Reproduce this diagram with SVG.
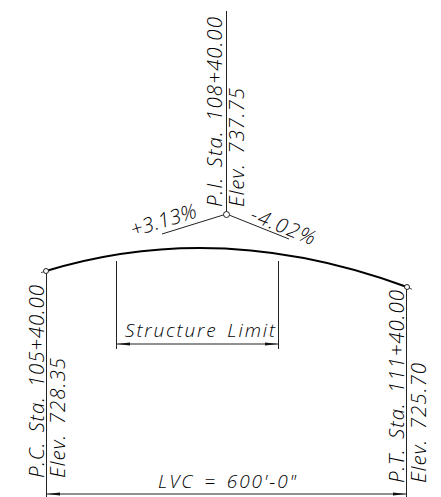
<svg xmlns="http://www.w3.org/2000/svg" width="441" height="497" viewBox="0 0 441 497">
<style>
.l{stroke:#222;stroke-width:1;fill:none}
.t{stroke:#222;stroke-width:.8;fill:none}
.c{stroke:#000;stroke-width:2;fill:none}
.o{stroke:#222;stroke-width:1;fill:#fff}
.a{fill:#111}
text{font-family:"Open Sans",sans-serif;font-weight:300;font-style:italic;font-size:20.500px;word-spacing:3px;fill:#000}
</style>
<rect width="441" height="497" fill="#fff"/>
<g id="connectors">
<path class="l" d="M226.500 11V214M226.500 214L162 234M226.500 214L289 239"/>
<path class="c" d="M46 271Q220 218 407 287"/>
<path class="t" d="M41 272.700L46 271M407 287L412 289.300"/>
<path class="l" d="M46.500 271V497M406.500 287V497M116.500 261V349M278.500 261V349"/>
<path class="l" d="M117 344H278M47 494H407"/>
<path class="a" d="M117 344L130 342.500V345.500ZM278 344L265 342.500V345.500ZM47 494L60 492.500V495.500ZM406 494L393 492.500V495.500Z"/>
</g>
<g id="pi"><circle class="o" cx="226.500" cy="214.500" r="3"/>
<text transform="translate(221.500,207) rotate(-90)" textLength="190" lengthAdjust="spacing">P.I. Sta. 108+40.00</text>
<text transform="translate(243.500,207) rotate(-90)" textLength="119" lengthAdjust="spacing">Elev. 737.75</text></g>
<g id="grades">
<text transform="translate(133,237) rotate(-17)" textLength="68" lengthAdjust="spacing">+3.13%</text>
<text transform="translate(249,220) rotate(22)" textLength="68" lengthAdjust="spacing">-4.02%</text></g>
<g id="pc"><circle class="o" cx="46" cy="271" r="2.500"/>
<text transform="translate(43.500,478) rotate(-90)" textLength="193" lengthAdjust="spacing">P.C. Sta. 105+40.00</text>
<text transform="translate(65,478) rotate(-90)" textLength="120" lengthAdjust="spacing">Elev. 728.35</text></g>
<g id="pt"><circle class="o" cx="407" cy="287" r="2.500"/>
<text transform="translate(404,483) rotate(-90)" textLength="193" lengthAdjust="spacing">P.T. Sta. 111+40.00</text>
<text transform="translate(426,483) rotate(-90)" textLength="120" lengthAdjust="spacing">Elev. 725.70</text></g>
<g id="limit"><text x="125" y="337" textLength="150" lengthAdjust="spacing" style="font-size:19px">Structure Limit</text></g>
<g id="lvc"><text x="158" y="488" textLength="138" lengthAdjust="spacing" style="font-size:19px">LVC = 600'-0"</text></g>
</svg>
